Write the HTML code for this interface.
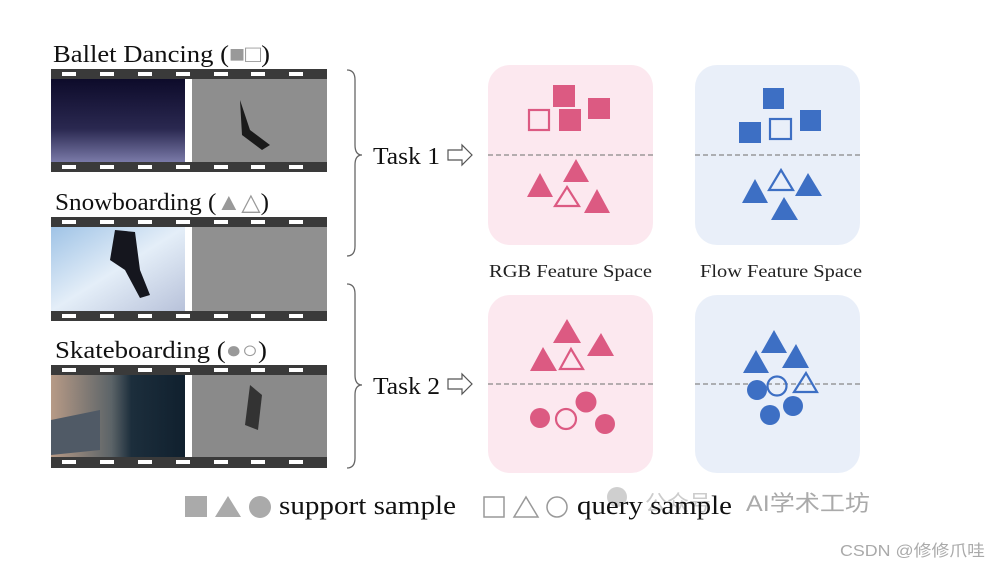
<!DOCTYPE html>
<html><head><meta charset="utf-8"><style>html,body{margin:0;padding:0;background:#fff}svg{display:block}</style></head>
<body>
<svg width="989" height="567" viewBox="0 0 989 567" xmlns="http://www.w3.org/2000/svg">
<defs>
<linearGradient id="ballet" x1="0" y1="0" x2="0" y2="1"><stop offset="0" stop-color="#0d0b2a"/><stop offset="0.6" stop-color="#2a2850"/><stop offset="1" stop-color="#7a7aa8"/></linearGradient>
<linearGradient id="snow" x1="0" y1="0" x2="1" y2="1"><stop offset="0" stop-color="#9fc3e6"/><stop offset="0.5" stop-color="#e4eef8"/><stop offset="1" stop-color="#b8c2da"/></linearGradient>
<linearGradient id="skate" x1="0" y1="0" x2="1" y2="0"><stop offset="0" stop-color="#b79a86"/><stop offset="0.45" stop-color="#5c6468"/><stop offset="0.6" stop-color="#1c2e3c"/><stop offset="1" stop-color="#10202e"/></linearGradient>
<g id="holes" fill="#fff">
<rect x="62" y="0" width="14" height="4"/><rect x="100" y="0" width="14" height="4"/><rect x="138" y="0" width="14" height="4"/><rect x="176" y="0" width="14" height="4"/><rect x="214" y="0" width="14" height="4"/><rect x="251" y="0" width="14" height="4"/><rect x="289" y="0" width="14" height="4"/>
</g>
</defs>
<rect width="989" height="567" fill="#fff"/>
<g font-family="Liberation Serif, serif" fill="#111">
<text x="53" y="62" font-size="24" textLength="217" lengthAdjust="spacingAndGlyphs">Ballet Dancing (<tspan fill="#999">■□</tspan>)</text>
<text x="55" y="210" font-size="24" textLength="214" lengthAdjust="spacingAndGlyphs">Snowboarding (<tspan fill="#999">▲△</tspan>)</text>
<text x="55" y="358" font-size="24" textLength="212" lengthAdjust="spacingAndGlyphs">Skateboarding (<tspan fill="#999">●○</tspan>)</text>
<text x="373" y="164" font-size="24" textLength="67" lengthAdjust="spacingAndGlyphs">Task 1</text>
<text x="373" y="394" font-size="24" textLength="67" lengthAdjust="spacingAndGlyphs">Task 2</text>
<text x="279" y="514" font-size="26" textLength="177" lengthAdjust="spacingAndGlyphs">support sample</text>
</g>
<rect x="51" y="69" width="276" height="103" fill="#3a3a3a"/>
<rect x="51" y="79" width="134" height="83" fill="url(#ballet)"/>
<rect x="185" y="79" width="7" height="83" fill="#fff"/>
<rect x="192" y="79" width="135" height="83" fill="#8e8e8e"/>
<path d="M240 100 L250 130 L270 145 L262 150 L242 135 Z" fill="#1a1a1a"/>
<use href="#holes" y="72"/><use href="#holes" y="165"/>
<rect x="51" y="217" width="276" height="104" fill="#3a3a3a"/>
<rect x="51" y="227" width="134" height="84" fill="url(#snow)"/>
<path d="M115 230 L135 232 L140 270 L150 295 L140 298 L125 270 L110 260 Z" fill="#15161e"/>
<rect x="185" y="227" width="7" height="84" fill="#fff"/>
<rect x="192" y="227" width="135" height="84" fill="#909090"/>
<use href="#holes" y="220"/><use href="#holes" y="314"/>
<rect x="51" y="365" width="276" height="103" fill="#3a3a3a"/>
<rect x="51" y="375" width="134" height="82" fill="url(#skate)"/>
<path d="M51 420 L100 410 L100 450 L51 455 Z" fill="#505a66"/>
<rect x="185" y="375" width="7" height="82" fill="#fff"/>
<rect x="192" y="375" width="135" height="82" fill="#8a8a8a"/>
<path d="M250 385 L262 395 L258 430 L245 425 Z" fill="#333"/>
<use href="#holes" y="368"/><use href="#holes" y="460"/>
<g fill="none" stroke="#666" stroke-width="1.3">
<path d="M347 70 Q355 70 355 80 L355 145 Q355 155 362 155 Q355 155 355 165 L355 246 Q355 256 347 256"/>
<path d="M347 284 Q355 284 355 294 L355 375 Q355 385 362 385 Q355 385 355 395 L355 458 Q355 468 347 468"/>
</g>
<g fill="#fff" stroke="#555" stroke-width="1.2">
<path d="M448 150 L462 150 L462 145 L472 155 L462 165 L462 160 L448 160 Z"/>
<path d="M448 379 L462 379 L462 374 L472 384 L462 394 L462 389 L448 389 Z"/>
</g>
<rect x="488" y="65" width="165" height="180" rx="22" fill="#fce8ef"/>
<rect x="695" y="65" width="165" height="180" rx="22" fill="#e9eff9"/>
<rect x="488" y="295" width="165" height="178" rx="22" fill="#fce8ef"/>
<rect x="695" y="295" width="165" height="178" rx="22" fill="#e9eff9"/>
<g stroke="#888" stroke-width="1.3" stroke-dasharray="5,3">
<line x1="488" y1="155" x2="653" y2="155"/><line x1="695" y1="155" x2="860" y2="155"/>
<line x1="488" y1="384" x2="653" y2="384"/><line x1="695" y1="384" x2="860" y2="384"/>
</g>
<g fill="#dc5a82">
<rect x="553" y="85" width="22" height="22"/><rect x="588" y="98" width="22" height="21"/><rect x="559" y="109" width="22" height="22"/>
<path d="M576 159 L589 182 L563 182Z"/><path d="M540 173 L553 197 L527 197Z"/><path d="M597 189 L610 213 L584 213Z"/>
<path d="M567 319 L581 343 L553 343Z"/><path d="M601 333 L614 356 L587 356Z"/><path d="M543 347 L557 371 L530 371Z"/>
<circle cx="540" cy="418" r="10"/><circle cx="586" cy="402" r="10.5"/><circle cx="605" cy="424" r="10"/>
</g>
<g fill="none" stroke="#dc5a82" stroke-width="2.2">
<rect x="529" y="110" width="20" height="20"/><path d="M567 187 L579 206 L555 206Z"/>
<path d="M571 349 L583 369 L560 369Z"/><circle cx="566" cy="419" r="10"/>
</g>
<g fill="#3d6fc4">
<rect x="763" y="88" width="21" height="21"/><rect x="800" y="110" width="21" height="21"/><rect x="739" y="122" width="22" height="21"/>
<path d="M755 179 L768 203 L742 203Z"/><path d="M808 173 L822 196 L795 196Z"/><path d="M784 197 L798 220 L771 220Z"/>
<path d="M774 330 L787 353 L761 353Z"/><path d="M756 350 L769 373 L743 373Z"/><path d="M796 344 L809 368 L782 368Z"/>
<circle cx="757" cy="390" r="10"/><circle cx="793" cy="406" r="10"/><circle cx="770" cy="415" r="10"/>
</g>
<g fill="none" stroke="#3d6fc4" stroke-width="2.2">
<rect x="770" y="119" width="21" height="20"/><path d="M781 170 L793 190 L769 190Z"/>
<path d="M806 373 L817 392 L794 392Z"/><circle cx="777" cy="386" r="9.5"/>
</g>
<g font-family="Liberation Serif, serif" font-size="18" fill="#222">
<text x="489" y="277" textLength="163" lengthAdjust="spacingAndGlyphs">RGB Feature Space</text>
<text x="700" y="277" textLength="162" lengthAdjust="spacingAndGlyphs">Flow Feature Space</text>
</g>
<g fill="#aaa">
<rect x="185" y="496" width="22" height="21"/><path d="M228 496 L241 517 L215 517Z"/><circle cx="260" cy="507" r="11"/>
</g>
<g fill="none" stroke="#999" stroke-width="1.5">
<rect x="484" y="497" width="20" height="20"/><path d="M526 497 L538 517 L514 517Z"/><circle cx="557" cy="507" r="10"/>
</g>
<circle cx="617" cy="497" r="10" fill="#bbb" opacity="0.7"/>
<text x="645" y="511" font-family="Liberation Sans, Noto Sans CJK SC, sans-serif" font-size="22" fill="#ccc">公众号</text>
<text x="577" y="514" font-family="Liberation Serif, serif" font-size="26" fill="#111" textLength="155" lengthAdjust="spacingAndGlyphs">query sample</text>
<text x="746" y="511" font-family="Liberation Sans, Noto Sans CJK SC, sans-serif" font-size="22" fill="#aaa" textLength="124" lengthAdjust="spacingAndGlyphs">AI学术工坊</text>
<text x="840" y="556" font-family="Liberation Sans, Noto Sans CJK SC, sans-serif" font-size="16" fill="#aaa" textLength="145" lengthAdjust="spacingAndGlyphs">CSDN @修修爪哇</text>
</svg>
</body></html>
